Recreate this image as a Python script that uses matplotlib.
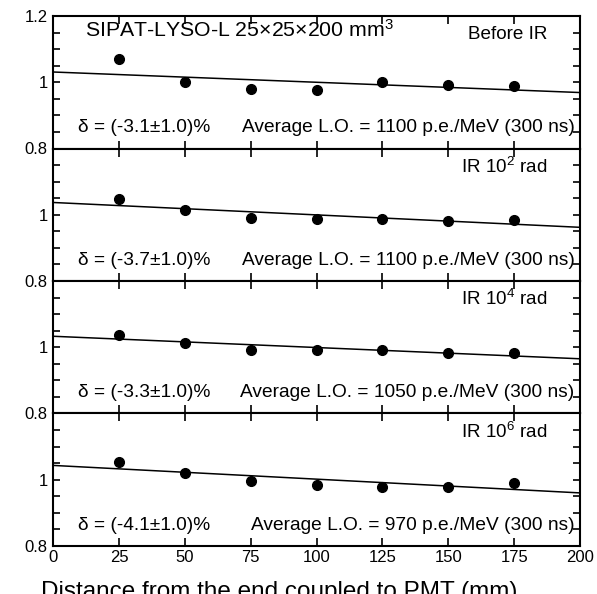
import matplotlib.pyplot as plt
import numpy as np

plt.rcParams['font.family'] = ['Liberation Sans', 'DejaVu Sans']
plt.rcParams['mathtext.fontset'] = 'custom'
plt.rcParams['mathtext.rm'] = 'Liberation Sans'
plt.rcParams['mathtext.it'] = 'Liberation Sans:italic'

# distance from the end coupled to PMT (mm)
distance = [25, 50, 75, 100, 125, 150, 175]

# normalised light output, one list per irradiation step
lo_before = [1.071, 1.001, 0.980, 0.976, 1.001, 0.991, 0.988]
lo_ir2 = [1.049, 1.015, 0.991, 0.987, 0.988, 0.982, 0.983]
lo_ir4 = [1.038, 1.013, 0.993, 0.993, 0.993, 0.981, 0.981]
lo_ir6 = [1.052, 1.020, 0.996, 0.984, 0.979, 0.979, 0.989]

# fitted line, value at x=0 and x=200
fit_x = [0, 200]
fit_before = [1.031, 0.969]
fit_ir2 = [1.037, 0.962]
fit_ir4 = [1.033, 0.965]
fit_ir6 = [1.043, 0.960]

labels = ['Before IR', 'IR 10$^{2}$ rad', 'IR 10$^{4}$ rad', 'IR 10$^{6}$ rad']
deltas = ['(-3.1\u00b11.0)%', '(-3.7\u00b11.0)%', '(-3.3\u00b11.0)%', '(-4.1\u00b11.0)%']
avg_lo = [1100, 1100, 1050, 970]

series = [lo_before, lo_ir2, lo_ir4, lo_ir6]
fits = [fit_before, fit_ir2, fit_ir4, fit_ir6]

fig, axes = plt.subplots(4, 1, sharex=True, figsize=(5.97, 5.94), dpi=100)
fig.subplots_adjust(left=0.089, right=0.9715, top=0.973, bottom=0.081, hspace=0)

for i, ax in enumerate(axes):
    ax.plot(distance, series[i], 'o', color='black', markersize=7)
    ax.plot(fit_x, fits[i], '-', color='black', linewidth=1.1)

    ax.set_xlim(0, 200)
    ax.set_ylim(0.8, 1.2)
    ax.set_xticks(np.arange(0, 201, 25))
    if i == 0:
        ax.set_yticks([0.8, 1.0, 1.2])
        ax.set_yticklabels(['0.8', '1', '1.2'])
    else:
        ax.set_yticks([0.8, 1.0])
        ax.set_yticklabels(['0.8', '1'])
    ax.set_yticks(np.arange(0.8, 1.201, 0.05), minor=True)

    ax.tick_params(axis='both', which='both', direction='in', top=True, right=True,
                   labelsize=12, width=1.2)
    ax.tick_params(axis='x', which='major', length=6, pad=3)
    ax.tick_params(axis='y', which='major', length=5, pad=4)
    ax.tick_params(axis='y', which='minor', length=5)
    for sp in ax.spines.values():
        sp.set_linewidth(1.5)

    ax.text(9.5, 0.862, '\u03b4 = ' + deltas[i], fontsize=13.8, va='center', ha='left')
    ax.text(198, 0.862, 'Average L.O. = %d p.e./MeV (300 ns)' % avg_lo[i],
            fontsize=13.8, va='center', ha='right')
    ax.text(187.5, 1.145, labels[i], fontsize=13.6, va='center', ha='right')

axes[0].text(12, 1.158, 'SIPAT-LYSO-L 25\u00d725\u00d7200 mm$^{3}$', fontsize=15.3,
             va='center', ha='left')

axes[-1].set_xlabel('Distance from the end coupled to PMT (mm)', fontsize=17.5)
axes[-1].xaxis.set_label_coords(0.429, -0.265)
axes[-1].xaxis.label.set_va('top')

fig.savefig('out.png', dpi=100)
